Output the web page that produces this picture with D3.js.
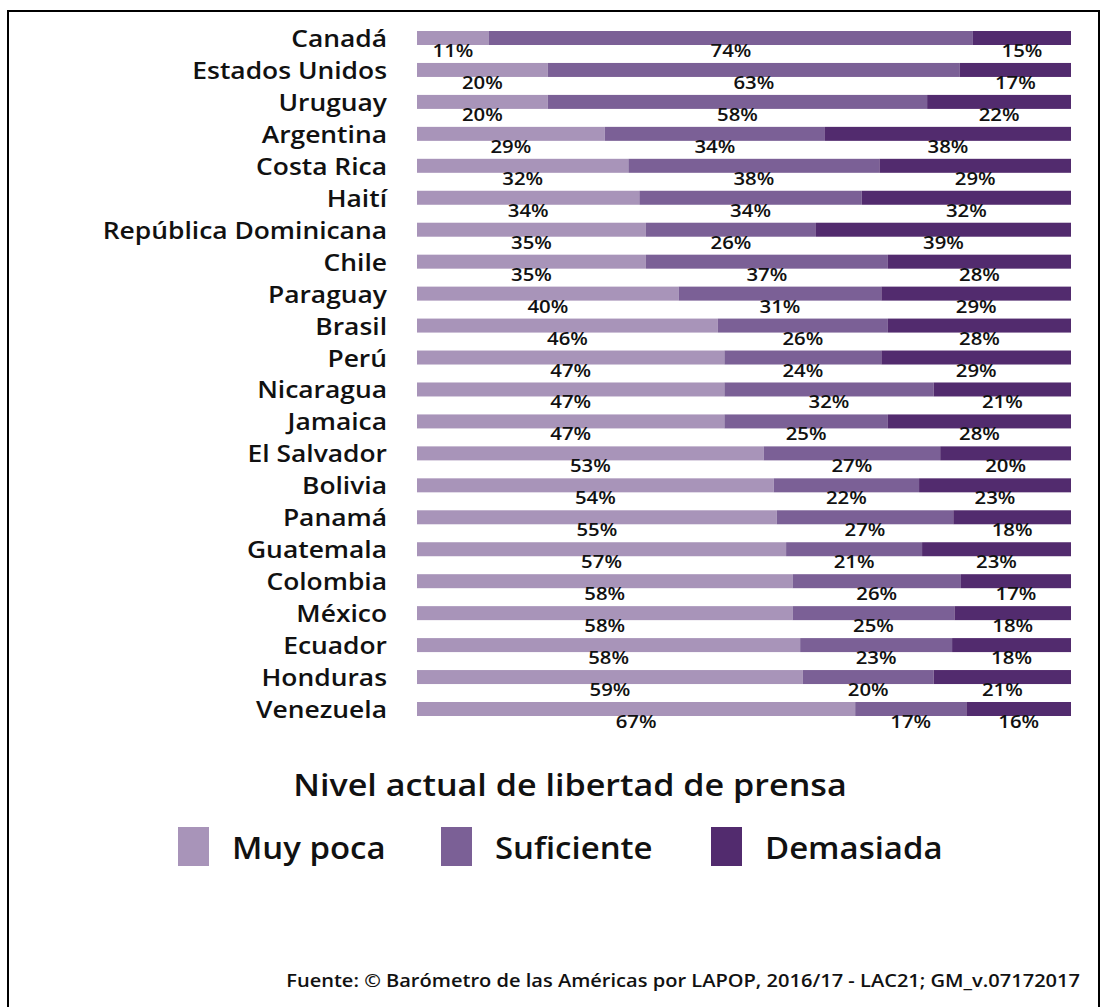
<!DOCTYPE html>
<html>
<head>
<meta charset="utf-8">
<script src="https://cdn.jsdelivr.net/npm/d3@7"></script>
<style>
  body { margin: 0; background: #fff; }
  svg text { font-family: "Open Sans", "Noto Sans", sans-serif; fill: #111; font-weight: 600; }
</style>
</head>
<body>
<svg width="1108" height="1007"></svg>
<script>
var countries = ["Canadá", "Estados Unidos", "Uruguay", "Argentina", "Costa Rica", "Haití",
  "República Dominicana", "Chile", "Paraguay", "Brasil", "Perú", "Nicaragua", "Jamaica",
  "El Salvador", "Bolivia", "Panamá", "Guatemala", "Colombia", "México", "Ecuador",
  "Honduras", "Venezuela"];
var muyPoca    = [11, 20, 20, 29, 32, 34, 35, 35, 40, 46, 47, 47, 47, 53, 54, 55, 57, 58, 58, 58, 59, 67];
var suficiente = [74, 63, 58, 34, 38, 34, 26, 37, 31, 26, 24, 32, 25, 27, 22, 27, 21, 26, 25, 23, 20, 17];
var demasiada  = [15, 17, 22, 38, 29, 32, 39, 28, 29, 28, 29, 21, 28, 20, 23, 18, 23, 17, 18, 18, 21, 16];
var seriesNames = ["Muy poca", "Suficiente", "Demasiada"];
var colors = ["#a894b9", "#7b6096", "#522b6e"];

var svg = d3.select("svg");
var stretch = 1.1; // the original lettering is a bit wider than plain Open Sans

// text helper: places a horizontally stretched label
function label(parent, x, y, txt, size, anchor, sx) {
  return parent.append("text")
      .attr("transform", "translate(" + x + "," + y + ") scale(" + (sx || stretch) + ",1)")
      .attr("text-anchor", anchor || "start")
      .attr("font-size", size)
      .text(txt);
}

// frame
svg.append("rect")
    .attr("x", 8)
    .attr("y", 11)
    .attr("width", 1091)
    .attr("height", 1010)
    .attr("fill", "none")
    .attr("stroke", "#000")
    .attr("stroke-width", 2);

var rows = countries.map(function(c, i) {
  return { country: c, vals: [muyPoca[i], suficiente[i], demasiada[i]] };
});

var y = d3.scaleBand()
    .domain(countries)
    .range([31, 716])
    .paddingInner(0.562)
    .paddingOuter(0);

var x = d3.scaleLinear()
    .domain([0, 1])
    .range([417, 1071]);

var row = svg.selectAll("g.row")
    .data(rows)
    .enter().append("g")
    .attr("class", "row")
    .attr("transform", function(d) { return "translate(0," + y(d.country) + ")"; });

// segments, normalised per row so every bar ends at 100%
row.each(function(d) {
  var total = d3.sum(d.vals);
  var start = 0;
  var segs = d.vals.map(function(v, k) {
    var s = { v: v, k: k, x0: start / total, x1: (start + v) / total };
    start += v;
    return s;
  });
  var g = d3.select(this);
  g.selectAll("rect")
      .data(segs)
      .enter().append("rect")
      .attr("x", function(s) { return x(s.x0); })
      .attr("y", 0)
      .attr("width", function(s) { return x(s.x1) - x(s.x0); })
      .attr("height", y.bandwidth())
      .attr("fill", function(s) { return colors[s.k]; });
  segs.forEach(function(s) {
    label(g, (x(s.x0) + x(s.x1)) / 2, y.bandwidth() + 12, s.v + "%", 18.5, "middle");
  });
  label(g, 387, 16, d.country, 24, "end");
});

// legend
label(svg, 570, 796, "Nivel actual de libertad de prensa", 31, "middle");

var legendX = [178, 441, 711];
seriesNames.forEach(function(name, i) {
  var g = svg.append("g")
      .attr("transform", "translate(" + legendX[i] + ",827)");
  g.append("rect")
      .attr("width", 31)
      .attr("height", 39)
      .attr("fill", colors[i]);
  label(g, 54, 32, name, 30.5, "start", 1.08);
});

label(svg, 1080, 987, "Fuente: © Barómetro de las Américas por LAPOP, 2016/17 - LAC21; GM_v.07172017", 18, "end", 1.115);
</script>
</body>
</html>
